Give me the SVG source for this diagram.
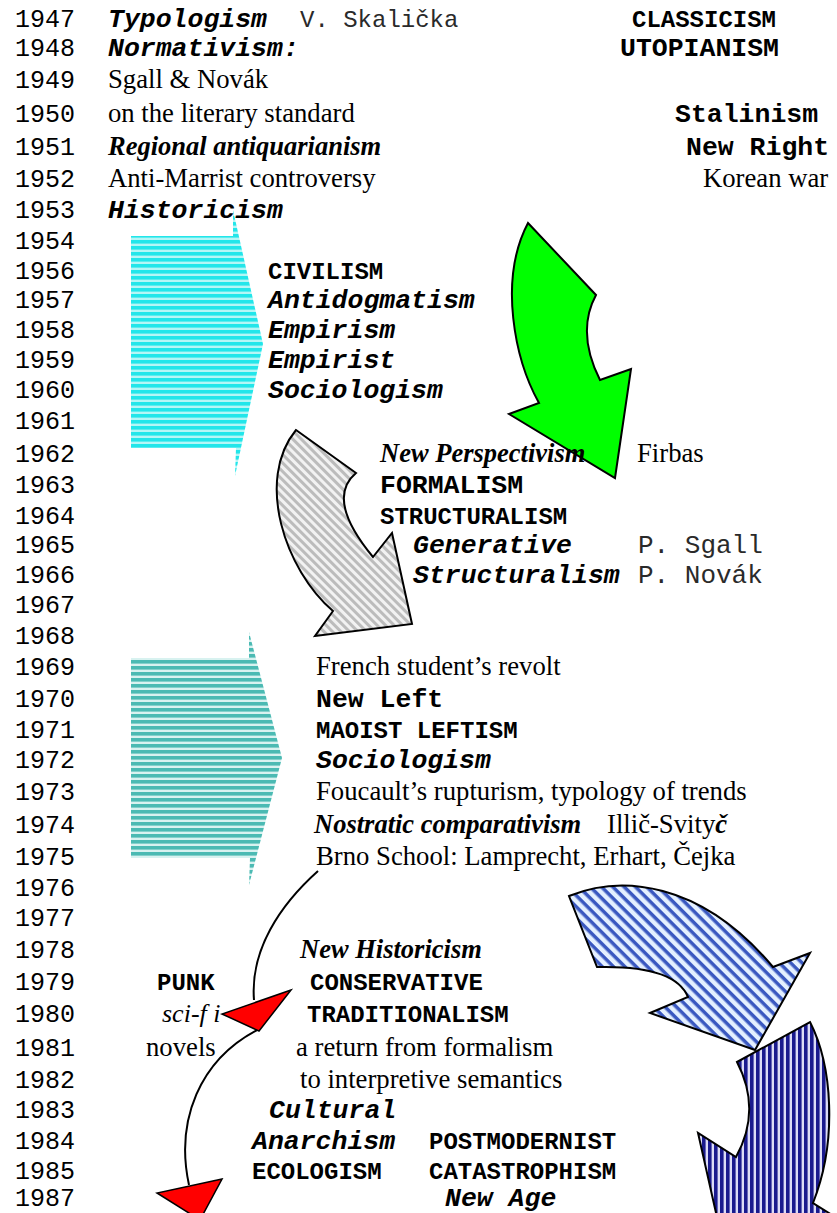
<svg xmlns="http://www.w3.org/2000/svg" width="837" height="1213" viewBox="0 0 837 1213">
  <style>
    text { fill: #000; }
    .yr { font-family: "Liberation Mono", monospace; font-size: 25px; fill: #2a2a2a; }
    .mono { font-family: "Liberation Mono", monospace; font-size: 24px; fill: #2a2a2a; }
    .monol { font-family: "Liberation Mono", monospace; font-size: 26px; fill: #2a2a2a; }
    .bi { font-family: "Liberation Mono", monospace; font-size: 26.5px; font-weight: bold; font-style: italic; }
    .cap { font-family: "Liberation Mono", monospace; font-size: 24px; font-weight: bold; }
    .big { font-family: "Liberation Mono", monospace; font-size: 26.5px; font-weight: bold; }
    .ser { font-family: "Liberation Serif", serif; font-size: 26.7px; }
    .serbi { font-family: "Liberation Serif", serif; font-size: 26.5px; font-weight: bold; font-style: italic; }
    .seri { font-family: "Liberation Serif", serif; font-size: 26px; font-style: italic; }
    .edge { stroke: #000; stroke-width: 2; stroke-linejoin: miter; }
    .link { fill: none; stroke: #000; stroke-width: 2; }
    .head { fill: #ff0000; stroke: #000; stroke-width: 1.5; }
  </style>
  <defs>
    <pattern id="cyanStripe" patternUnits="userSpaceOnUse" width="10" height="6">
      <rect width="10" height="6" fill="#b4f6f6"/>
      <rect width="10" height="3.6" fill="#22e6ea"/>
    </pattern>
    <pattern id="tealStripe" patternUnits="userSpaceOnUse" width="10" height="6">
      <rect width="10" height="6" fill="#d8f2f0"/>
      <rect width="10" height="3.6" fill="#4bbab3"/>
    </pattern>
    <pattern id="grayStripe" patternUnits="userSpaceOnUse" width="10" height="6" patternTransform="rotate(45)">
      <rect width="10" height="6" fill="#f2f2f2"/>
      <rect width="10" height="3" fill="#bcbcbc"/>
    </pattern>
    <pattern id="blueDiag" patternUnits="userSpaceOnUse" width="10" height="8" patternTransform="rotate(45)">
      <rect width="10" height="8" fill="#e4f0ff"/>
      <rect width="10" height="3.5" fill="#3a58c0"/>
    </pattern>
    <pattern id="navyVert" patternUnits="userSpaceOnUse" width="6" height="10">
      <rect width="6" height="10" fill="#dcdcf6"/>
      <rect width="3.6" height="10" fill="#1a1a8e"/>
    </pattern>
  </defs>

  <rect width="837" height="1213" fill="#fff"/>

  <!-- year column -->
  <g id="years" class="yr">
    <text x="15" y="27">1947</text>
    <text x="15" y="56">1948</text>
    <text x="15" y="88">1949</text>
    <text x="15" y="122">1950</text>
    <text x="15" y="155">1951</text>
    <text x="15" y="187">1952</text>
    <text x="15" y="218">1953</text>
    <text x="15" y="249">1954</text>
    <text x="15" y="279">1956</text>
    <text x="15" y="308">1957</text>
    <text x="15" y="338">1958</text>
    <text x="15" y="368">1959</text>
    <text x="15" y="398">1960</text>
    <text x="15" y="429">1961</text>
    <text x="15" y="462">1962</text>
    <text x="15" y="493">1963</text>
    <text x="15" y="524">1964</text>
    <text x="15" y="553">1965</text>
    <text x="15" y="583">1966</text>
    <text x="15" y="613">1967</text>
    <text x="15" y="644">1968</text>
    <text x="15" y="675">1969</text>
    <text x="15" y="707">1970</text>
    <text x="15" y="738">1971</text>
    <text x="15" y="768">1972</text>
    <text x="15" y="800">1973</text>
    <text x="15" y="833">1974</text>
    <text x="15" y="865">1975</text>
    <text x="15" y="896">1976</text>
    <text x="15" y="926">1977</text>
    <text x="15" y="958">1978</text>
    <text x="15" y="990">1979</text>
    <text x="15" y="1022">1980</text>
    <text x="15" y="1056">1981</text>
    <text x="15" y="1088">1982</text>
    <text x="15" y="1118">1983</text>
    <text x="15" y="1149">1984</text>
    <text x="15" y="1179">1985</text>
    <text x="15" y="1206">1987</text>
  </g>

  <!-- block arrows -->
  <g id="arrow-cyan">
    <polygon points="131,236 233,236 233,210 263,344 235,476 236,448 131,448" fill="url(#cyanStripe)"/>
  </g>
  <g id="arrow-green">
    <path class="edge" fill="#00ff00" d="M528,223 L596,295 Q576,332 600,380 L631,369 L615,478 L509,414 L539,403 C515,360 498,280 528,223 Z"/>
  </g>
  <g id="arrow-gray">
    <path class="edge" fill="url(#grayStripe)" d="M296,430 L356,473 Q325,499 373,557 L392,533 L412,624 L315,636 L333,611 C285,570 255,480 296,430 Z"/>
  </g>
  <g id="arrow-teal">
    <polygon points="131,658 249,658 249,632 282,758 249,885 250,858 131,858" fill="url(#tealStripe)"/>
  </g>
  <g id="arrow-blue">
    <path class="edge" fill="url(#blueDiag)" d="M569,896 C620,875 700,880 773,967 L810,953 L755,1050 L650,1013 L688,997 Q675,965 597,967 Z"/>
  </g>
  <g id="arrow-navy">
    <path class="edge" fill="url(#navyVert)" d="M737,1062 L810,1022 C832,1065 838,1140 813,1203 L832,1215 L730,1275 L698,1133 L736,1157 Q762,1110 737,1062 Z"/>
  </g>

  <!-- 1947-1953 -->
  <g id="n-1947">
    <text class="bi" x="108" y="27">Typologism</text>
    <text class="mono" x="300" y="27">V. Skalička</text>
    <text class="cap" x="632" y="27">CLASSICISM</text>
  </g>
  <g id="n-1948">
    <text class="bi" x="108" y="56">Normativism:</text>
    <text class="big" x="620" y="56">UTOPIANISM</text>
  </g>
  <g id="n-1949-50">
    <text class="ser" x="108" y="88">Sgall &amp; Novák</text>
    <text class="ser" x="108" y="122">on the literary standard</text>
    <text class="big" x="675" y="122">Stalinism</text>
  </g>
  <g id="n-1951">
    <text class="serbi" x="108" y="155">Regional antiquarianism</text>
    <text class="big" x="686" y="155">New Right</text>
  </g>
  <g id="n-1952">
    <text class="ser" x="108" y="187">Anti-Marrist controversy</text>
    <text class="ser" x="703" y="187">Korean war</text>
  </g>
  <g id="n-1953">
    <text class="bi" x="108" y="218">Historicism</text>
  </g>

  <!-- 1956-1960 -->
  <g id="n-civilism">
    <text class="cap" x="268" y="279">CIVILISM</text>
    <text class="bi" x="268" y="308">Antidogmatism</text>
    <text class="bi" x="268" y="338">Empirism</text>
    <text class="bi" x="268" y="368">Empirist</text>
    <text class="bi" x="268" y="398">Sociologism</text>
  </g>

  <!-- 1962-1966 -->
  <g id="n-formalism">
    <text class="serbi" x="380" y="462">New Perspectivism</text>
    <text class="ser" x="637" y="462">Firbas</text>
    <text class="big" x="380" y="493">FORMALISM</text>
    <text class="cap" x="380" y="524">STRUCTURALISM</text>
    <text class="bi" x="413" y="553">Generative</text>
    <text class="monol" x="638" y="553">P. Sgall</text>
    <text class="bi" x="413" y="583">Structuralism</text>
    <text class="monol" x="638" y="583">P. Novák</text>
  </g>

  <!-- 1969-1975 -->
  <g id="n-newleft">
    <text class="ser" x="316" y="675">French student’s revolt</text>
    <text class="big" x="316" y="707">New Left</text>
    <text class="cap" x="316" y="738">MAOIST LEFTISM</text>
    <text class="bi" x="316" y="768">Sociologism</text>
    <text class="ser" x="316" y="800">Foucault’s rupturism, typology of trends</text>
    <text class="serbi" x="314" y="833">Nostratic comparativism</text>
    <text class="ser" x="607" y="833">Illič-Svity<tspan font-weight="bold" font-style="italic">č</tspan></text>
    <text class="ser" x="316" y="865">Brno School: Lamprecht, Erhart, Čejka</text>
  </g>

  <!-- 1978-1987 -->
  <g id="n-newhist">
    <text class="serbi" x="300" y="958">New Historicism</text>
    <text class="cap" x="310" y="990">CONSERVATIVE</text>
    <text class="cap" x="307" y="1022">TRADITIONALISM</text>
    <text class="ser" x="296" y="1056">a return from formalism</text>
    <text class="ser" x="300" y="1088">to interpretive semantics</text>
  </g>
  <g id="n-punk">
    <text class="cap" x="157" y="990">PUNK</text>
    <text class="seri" x="162" y="1022">sci-f i</text>
    <text class="ser" x="146" y="1056">novels</text>
  </g>
  <g id="n-anarchism">
    <text class="bi" x="269" y="1118">Cultural</text>
    <text class="bi" x="252" y="1149">Anarchism</text>
    <text class="cap" x="252" y="1179">ECOLOGISM</text>
  </g>
  <g id="n-postmodern">
    <text class="cap" x="429" y="1149">POSTMODERNIST</text>
    <text class="cap" x="429" y="1179">CATASTROPHISM</text>
    <text class="bi" x="445" y="1206">New Age</text>
  </g>

  <!-- curved connectors with red heads -->
  <g id="connectors">
    <path class="link" d="M318,871 C280,905 250,950 254,1000"/>
    <polygon class="head" points="291,990 222,1014 259,1031"/>
    <path class="link" d="M257,1030 C200,1060 175,1120 189,1185"/>
    <polygon class="head" points="222,1179 157,1193 200,1220"/>
  </g>
</svg>
